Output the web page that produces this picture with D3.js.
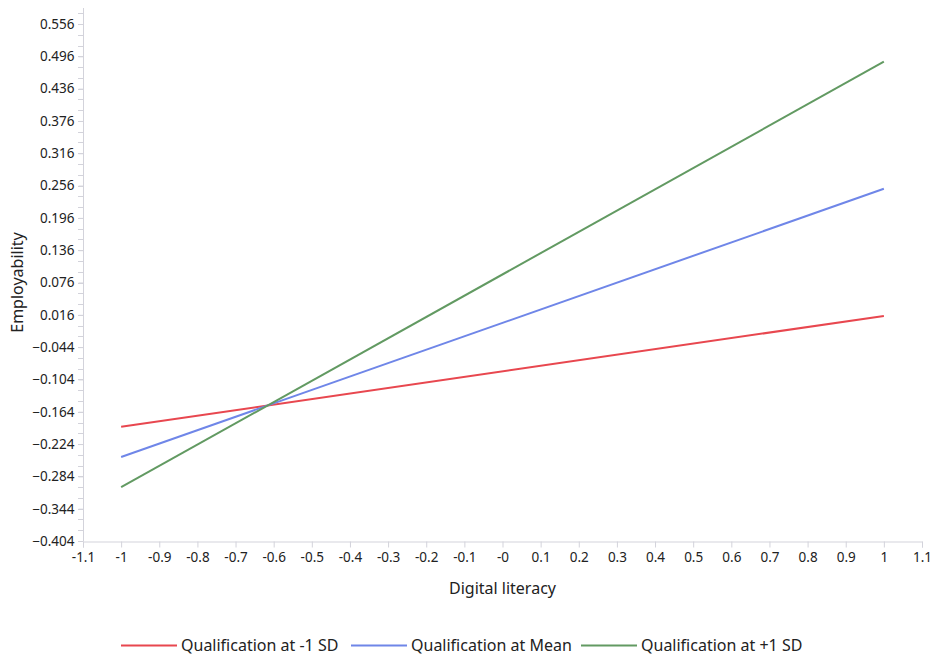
<!DOCTYPE html>
<html>
<head>
<meta charset="utf-8">
<script src="https://cdn.jsdelivr.net/npm/d3@7"></script>
<style>
  body { margin: 0; background: #fff; }
  text { font-family: "Noto Sans", "Open Sans", sans-serif; fill: #222; }
</style>
</head>
<body>
<script>
var width = 935
var height = 660

// data
var xValues = [-1, 1]
var seriesNames = ["Qualification at -1 SD", "Qualification at Mean", "Qualification at +1 SD"]
var seriesColors = ["#e8474f", "#6f86e8", "#629a62"]
var lowValues = [-0.192, -0.248, -0.304]
var highValues = [0.014, 0.250, 0.486]

var yTicks = [-0.404, -0.344, -0.284, -0.224, -0.164, -0.104, -0.044, 0.016, 0.076,
              0.136, 0.196, 0.256, 0.316, 0.376, 0.436, 0.496, 0.556]
var xTicks = [-1.1, -1, -0.9, -0.8, -0.7, -0.6, -0.5, -0.4, -0.3, -0.2, -0.1, 0,
              0.1, 0.2, 0.3, 0.4, 0.5, 0.6, 0.7, 0.8, 0.9, 1, 1.1]
var xTickLabels = ["-1.1", "-1", "-0.9", "-0.8", "-0.7", "-0.6", "-0.5", "-0.4", "-0.3", "-0.2", "-0.1", "-0",
                   "0.1", "0.2", "0.3", "0.4", "0.5", "0.6", "0.7", "0.8", "0.9", "1", "1.1"]

var plotLeft = 83, plotRight = 922, plotTop = 24, plotBottom = 541

var x = d3.scaleLinear().domain([-1.1, 1.1]).range([plotLeft, plotRight])
var y = d3.scaleLinear().domain([-0.404, 0.556]).range([plotBottom, plotTop])

var svg = d3.select("body").append("svg")
    .attr("width", width)
    .attr("height", height)

var axisColor = "#d3d3db"

// minor ticks on the y axis every 0.02
var minor = d3.range(0, 50).map(function(i) { return -0.404 + i * 0.02 })
    .filter(function(v) { return v < 0.59 })
svg.append("g").selectAll("line")
    .data(minor)
    .enter().append("line")
    .attr("x1", plotLeft - 5).attr("x2", plotLeft)
    .attr("y1", function(d) { return Math.round(y(d)) + 0.5 })
    .attr("y2", function(d) { return Math.round(y(d)) + 0.5 })
    .style("stroke", axisColor)

// y axis
var yAxis = d3.axisLeft(y).tickValues(yTicks).tickSize(5).tickPadding(4)
    .tickFormat(d3.format(".3f"))
var gy = svg.append("g")
    .attr("transform", "translate(" + (plotLeft + 0.5) + ",0)")
    .call(yAxis)
gy.select(".domain").remove()
gy.selectAll(".tick line").style("stroke", axisColor)
gy.selectAll(".tick text").style("font-size", "13.5px").style("fill", "#222")
svg.append("line")
    .attr("x1", plotLeft + 0.5).attr("x2", plotLeft + 0.5)
    .attr("y1", 8).attr("y2", plotBottom)
    .style("stroke", axisColor)

// x axis
var xAxis = d3.axisBottom(x).tickValues(xTicks).tickSize(6).tickPadding(5)
    .tickFormat(function(d, i) { return xTickLabels[i] })
var gx = svg.append("g")
    .attr("transform", "translate(0," + (plotBottom + 0.5) + ")")
    .call(xAxis)
gx.select(".domain").style("stroke", axisColor)
gx.selectAll(".tick line").style("stroke", axisColor)
gx.selectAll(".tick text").style("font-size", "13.5px").style("fill", "#222")

// axis titles
svg.append("text")
    .attr("x", (plotLeft + plotRight) / 2)
    .attr("y", 594)
    .attr("text-anchor", "middle")
    .style("font-size", "16px")
    .text("Digital literacy")

svg.append("text")
    .attr("transform", "translate(23," + ((plotTop + plotBottom) / 2) + ") rotate(-90)")
    .attr("text-anchor", "middle")
    .style("font-size", "16px")
    .text("Employability")

// lines
var line = d3.line()
    .x(function(d) { return x(d[0]) })
    .y(function(d) { return y(d[1]) })

seriesNames.forEach(function(name, i) {
    svg.append("path")
        .datum([[xValues[0], lowValues[i]], [xValues[1], highValues[i]]])
        .attr("d", line)
        .style("fill", "none")
        .style("stroke", seriesColors[i])
        .style("stroke-width", 2)
})

// legend
var legendX = [121, 351, 581]
var legend = svg.append("g")
seriesNames.forEach(function(name, i) {
    legend.append("line")
        .attr("x1", legendX[i]).attr("x2", legendX[i] + 56)
        .attr("y1", 645.5).attr("y2", 645.5)
        .style("stroke", seriesColors[i])
        .style("stroke-width", 2)
    legend.append("text")
        .attr("x", legendX[i] + 60)
        .attr("y", 651)
        .style("font-size", "16px")
        .text(name)
})
</script>
</body>
</html>
